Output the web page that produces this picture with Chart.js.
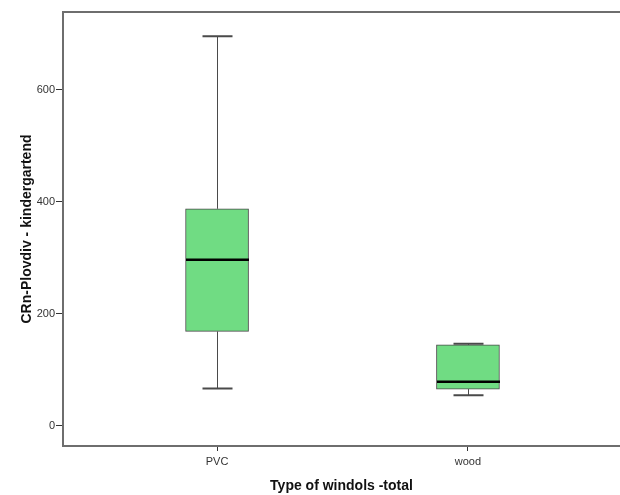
<!DOCTYPE html>
<html>
<head>
<meta charset="utf-8">
<script src="https://cdn.jsdelivr.net/npm/chart.js@4.4.1/dist/chart.umd.min.js"></script>
<style>
  html, body { margin: 0; padding: 0; background: #fff; }
  #wrap { width: 620px; height: 495px; }
</style>
</head>
<body>
<div id="wrap"><canvas id="boxChart" width="620" height="495"></canvas></div>
<script>
// values
const categories = ['PVC', 'wood'];
const minVals = [66, 54];
const q1Vals = [168, 65];
const medians = [296, 78];
const q3Vals = [387, 144];
const maxVals = [695, 146];
const yTicks = [0, 200, 400, 600];

const fill = '#70dc83';
const edge = '#4a4a4a';
const frame = '#6e6e6e';
const capHalf = 15;

// whiskers, caps and medians, placed with the chart's own scales
const boxExtras = {
    id: 'boxExtras',
    afterDatasetsDraw(chart) {
        const { ctx, scales: { x, y } } = chart;
        ctx.save();
        categories.forEach((c, i) => {
            const cx = Math.round(x.getPixelForValue(i + 1)) + 0.5;
            const pMax = y.getPixelForValue(maxVals[i]);
            const pQ3 = y.getPixelForValue(q3Vals[i]);
            const pQ1 = y.getPixelForValue(q1Vals[i]);
            const pMin = y.getPixelForValue(minVals[i]);
            const pMed = y.getPixelForValue(medians[i]);
            const half = chart.getDatasetMeta(0).data[i].width / 2;

            ctx.strokeStyle = edge;
            ctx.lineWidth = 1;
            ctx.beginPath();
            ctx.moveTo(cx, pQ3); ctx.lineTo(cx, pMax);
            ctx.moveTo(cx, pQ1); ctx.lineTo(cx, pMin);
            ctx.stroke();

            ctx.lineWidth = 2;
            ctx.beginPath();
            ctx.moveTo(cx - capHalf, pMax); ctx.lineTo(cx + capHalf, pMax);
            ctx.moveTo(cx - capHalf, pMin); ctx.lineTo(cx + capHalf, pMin);
            ctx.stroke();

            ctx.strokeStyle = '#000';
            ctx.lineWidth = 2.5;
            ctx.beginPath();
            ctx.moveTo(cx - half, pMed); ctx.lineTo(cx + half, pMed);
            ctx.stroke();
        });
        // top edge of the frame
        const a = chart.chartArea;
        ctx.strokeStyle = frame;
        ctx.lineWidth = 2;
        ctx.beginPath();
        ctx.moveTo(a.left, a.top); ctx.lineTo(a.right, a.top);
        ctx.stroke();
        ctx.restore();
    }
};

const ctx = document.getElementById('boxChart').getContext('2d');
new Chart(ctx, {
    type: 'bar',
    data: {
        datasets: [{
            data: categories.map((c, i) => ({ x: i + 1, y: [q1Vals[i], q3Vals[i]] })),
            backgroundColor: fill,
            borderColor: edge,
            borderWidth: 1,
            borderSkipped: false,
            barThickness: 63
        }]
    },
    options: {
        responsive: false,
        animation: false,
        layout: { padding: { top: 12, left: 0, right: 0, bottom: 0 } },
        plugins: { legend: { display: false }, tooltip: { enabled: false } },
        scales: {
            x: {
                type: 'linear',
                offset: false,
                min: 0.386,
                max: 2.606,
                afterBuildTicks: s => { s.ticks = categories.map((c, i) => ({ value: i + 1 })); },
                afterFit: s => { s.height = 49; },
                ticks: {
                    callback: v => categories[v - 1],
                    color: '#333',
                    font: { family: 'Liberation Sans', size: 11 },
                    padding: 4,
                    maxRotation: 0
                },
                grid: { display: true, offset: false, drawOnChartArea: false, drawTicks: true, tickLength: 5, color: '#333' },
                border: { display: true, color: frame, width: 2 },
                title: {
                    display: true,
                    text: 'Type of windols -total',
                    color: '#111',
                    font: { family: 'Liberation Sans', size: 14, weight: 'bold' },
                    padding: { top: 6, bottom: 0 }
                }
            },
            y: {
                type: 'linear',
                min: -36.6,
                max: 738.4,
                afterBuildTicks: s => { s.ticks = yTicks.map(v => ({ value: v })); },
                afterFit: s => { s.width = 63; },
                ticks: {
                    color: '#333',
                    font: { family: 'Liberation Sans', size: 11 },
                    padding: 1
                },
                grid: { display: true, drawOnChartArea: false, drawTicks: true, tickLength: 7, color: '#333' },
                border: { display: true, color: frame, width: 2 },
                title: {
                    display: true,
                    text: 'CRn-Plovdiv - kindergartend',
                    color: '#111',
                    font: { family: 'Liberation Sans', size: 14, weight: 'bold' },
                    padding: { top: 19, bottom: 0 }
                }
            }
        }
    },
    plugins: [boxExtras]
});
</script>
</body>
</html>
